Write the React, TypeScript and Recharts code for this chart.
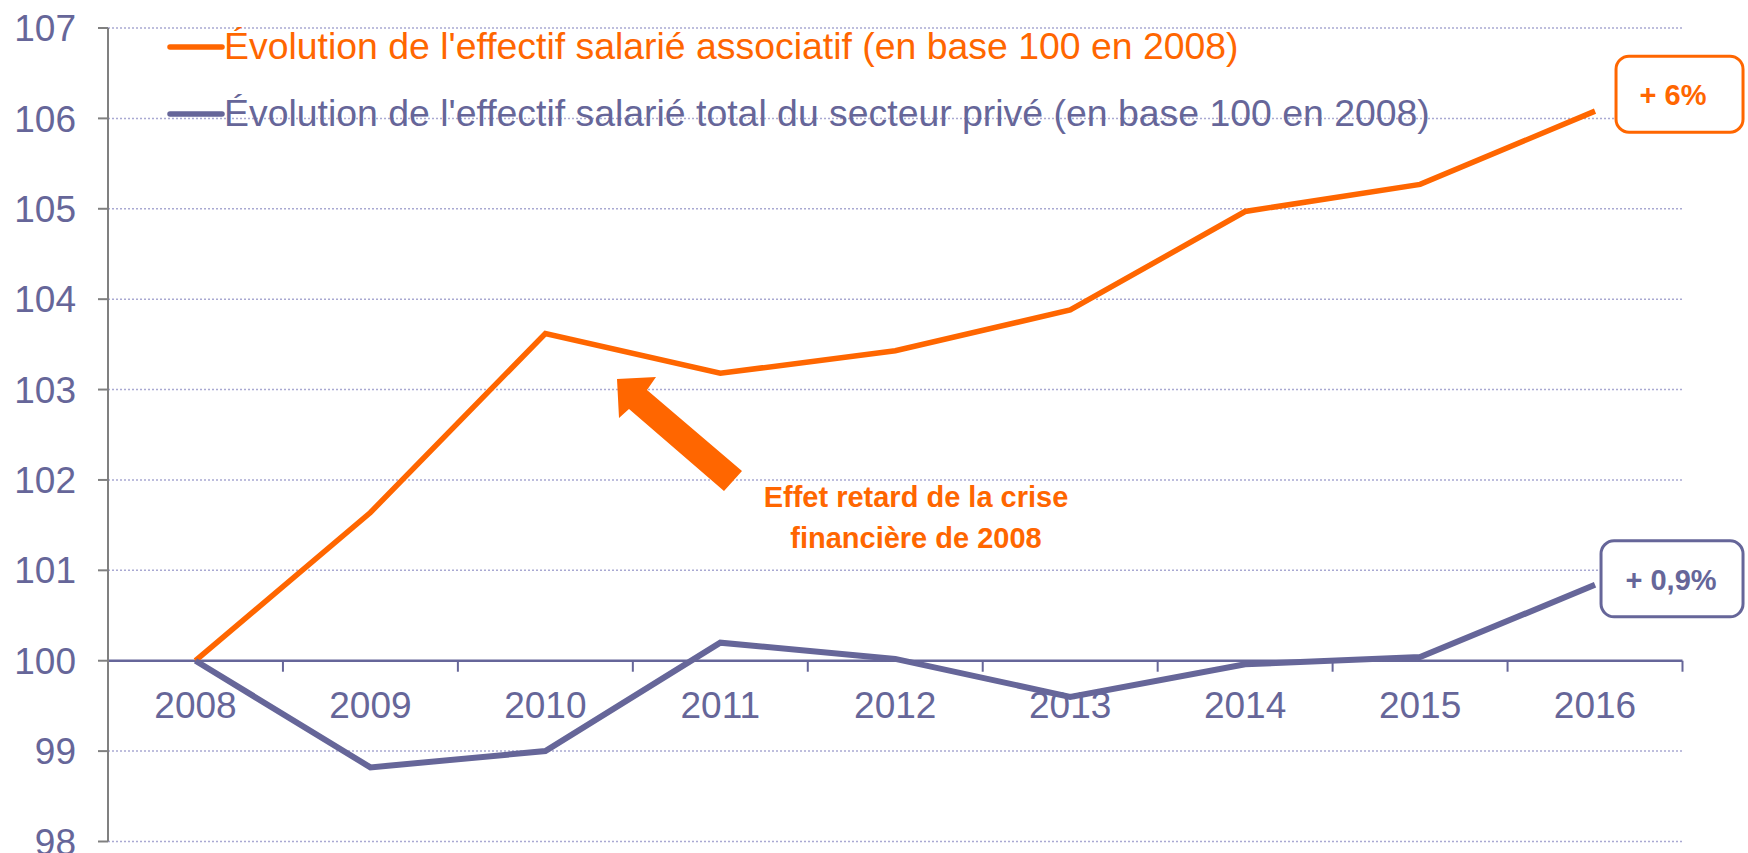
import React from 'react';
import {
  LineChart,
  Line,
  XAxis,
  YAxis,
  CartesianGrid,
  ReferenceLine,
  ReferenceDot,
  Customized,
} from 'recharts';

// ---- data ----
const YEARS = ['2008', '2009', '2010', '2011', '2012', '2013', '2014', '2015', '2016'];
const ASSOC = [100, 101.64, 103.62, 103.18, 103.43, 103.88, 104.97, 105.27, 106.08];
const PRIVE = [100, 98.82, 99.0, 100.2, 100.02, 99.6, 99.96, 100.04, 100.84];
const Y_TICKS = [98, 99, 100, 101, 102, 103, 104, 105, 106, 107];
const SERIES_NAMES = [
  "Évolution de l'effectif salarié associatif (en base 100 en 2008)",
  "Évolution de l'effectif salarié total du secteur privé (en base 100 en 2008)",
];
const END_LABELS = ['+ 6%', '+ 0,9%'];
const NOTE_LINES = ['Effet retard de la crise', 'financière de 2008'];

const data = YEARS.map((year, i) => ({ year, assoc: ASSOC[i], prive: PRIVE[i] }));

// ---- style ----
const ORANGE = '#FF6600';
const PURPLE = '#666699';
const GREY = '#808080';
const GRID = '#A9A9D2';
const FONT = "'Liberation Sans', Arial, Helvetica, sans-serif";

const W = 1748;
const H = 853;
const PLOT_LEFT = 108;
const PLOT_RIGHT = 1682.5;
const PLOT_TOP = 28;
const PLOT_BOTTOM = 841.5;
const Y_AXIS_W = 100;
const BAND = (PLOT_RIGHT - PLOT_LEFT) / YEARS.length;

const XAxisAtBase = (props: any) => {
  const { x1, y1, x2 } = props;
  if (x1 == null || y1 == null || x2 == null) return <g />;
  const band = (x2 - x1) / YEARS.length;
  return (
    <g>
      <line x1={x1} y1={y1} x2={x2} y2={y1} stroke={PURPLE} strokeWidth={2.5} />
      {Array.from({ length: YEARS.length + 1 }).map((_, i) => (
        <line
          key={'t' + i}
          x1={x1 + i * band}
          x2={x1 + i * band}
          y1={y1}
          y2={y1 + 11}
          stroke={PURPLE}
          strokeWidth={2}
        />
      ))}
      {YEARS.map((yr, i) => (
        <text
          key={yr}
          x={x1 + (i + 0.5) * band}
          y={y1 + 57}
          textAnchor="middle"
          fill={PURPLE}
          fontSize={37}
          fontFamily={FONT}
        >
          {yr}
        </text>
      ))}
    </g>
  );
};

const OrangeBox = (props: any) => {
  const { cx, cy } = props;
  if (cx == null || cy == null) return <g />;
  return (
    <g>
      <rect x={cx + 21} y={cy - 55} width={127} height={76} rx={13} ry={13} fill="#fff" stroke={ORANGE} strokeWidth={3} />
      <text x={cx + 78} y={cy - 6} textAnchor="middle" fill={ORANGE} fontSize={29} fontWeight="bold" fontFamily={FONT}>
        {END_LABELS[0]}
      </text>
    </g>
  );
};

const PurpleBox = (props: any) => {
  const { cx, cy } = props;
  if (cx == null || cy == null) return <g />;
  return (
    <g>
      <rect x={cx + 6} y={cy - 44} width={142} height={76} rx={13} ry={13} fill="#fff" stroke={PURPLE} strokeWidth={3} />
      <text x={cx + 76} y={cy + 5} textAnchor="middle" fill={PURPLE} fontSize={29} fontWeight="bold" fontFamily={FONT}>
        {END_LABELS[1]}
      </text>
    </g>
  );
};

const Annotations = () => (
  <g>
    {/* legend */}
    {[ORANGE, PURPLE].map((c, i) => (
      <g key={i}>
        <line x1={170} x2={222} y1={47 + i * 67} y2={47 + i * 67} stroke={c} strokeWidth={5.5} strokeLinecap="round" />
        <text x={224} y={59 + i * 67} fill={c} fontSize={37.4} fontFamily={FONT}>
          {SERIES_NAMES[i]}
        </text>
      </g>
    ))}
    {/* arrow */}
    <polygon
      points="617,379 656,377 647,390 742,471 724,491 629,409 619,418"
      fill={ORANGE}
    />
    {NOTE_LINES.map((t, i) => (
      <text
        key={i}
        x={916}
        y={507 + i * 41}
        textAnchor="middle"
        fill={ORANGE}
        fontSize={29}
        fontWeight="bold"
        fontFamily={FONT}
      >
        {t}
      </text>
    ))}
  </g>
);

export default function App() {
  return (
    <div style={{ position: 'absolute', left: 0, top: 0, width: W, height: H, background: '#fff' }}>
      <LineChart
        width={W}
        height={H}
        data={data}
        margin={{ top: PLOT_TOP, left: PLOT_LEFT - Y_AXIS_W, right: W - PLOT_RIGHT, bottom: H - PLOT_BOTTOM }}
      >
        <CartesianGrid vertical={false} stroke={GRID} strokeDasharray="2 2" strokeWidth={1.5} />
        <XAxis dataKey="year" hide padding={{ left: BAND / 2, right: BAND / 2 }} />
        <YAxis
          type="number"
          domain={[98, 107]}
          ticks={Y_TICKS}
          interval={0}
          width={Y_AXIS_W}
          axisLine={{ stroke: GREY, strokeWidth: 2 }}
          tickLine={{ stroke: GREY, strokeWidth: 2 }}
          tickSize={10}
          tickMargin={22}
          tick={{ fill: PURPLE, fontSize: 37, fontFamily: FONT }}
        />
        <ReferenceLine y={100} shape={XAxisAtBase} ifOverflow="visible" />
        <Line
          type="linear"
          dataKey="assoc"
          stroke={ORANGE}
          strokeWidth={5.5}
          dot={false}
          activeDot={false}
          isAnimationActive={false}
        />
        <Line
          type="linear"
          dataKey="prive"
          stroke={PURPLE}
          strokeWidth={6}
          dot={false}
          activeDot={false}
          isAnimationActive={false}
        />
        <ReferenceDot x={YEARS[8]} y={ASSOC[8]} shape={OrangeBox} ifOverflow="visible" />
        <ReferenceDot x={YEARS[8]} y={PRIVE[8]} shape={PurpleBox} ifOverflow="visible" />
        <Customized component={<Annotations />} />
      </LineChart>
    </div>
  );
}
